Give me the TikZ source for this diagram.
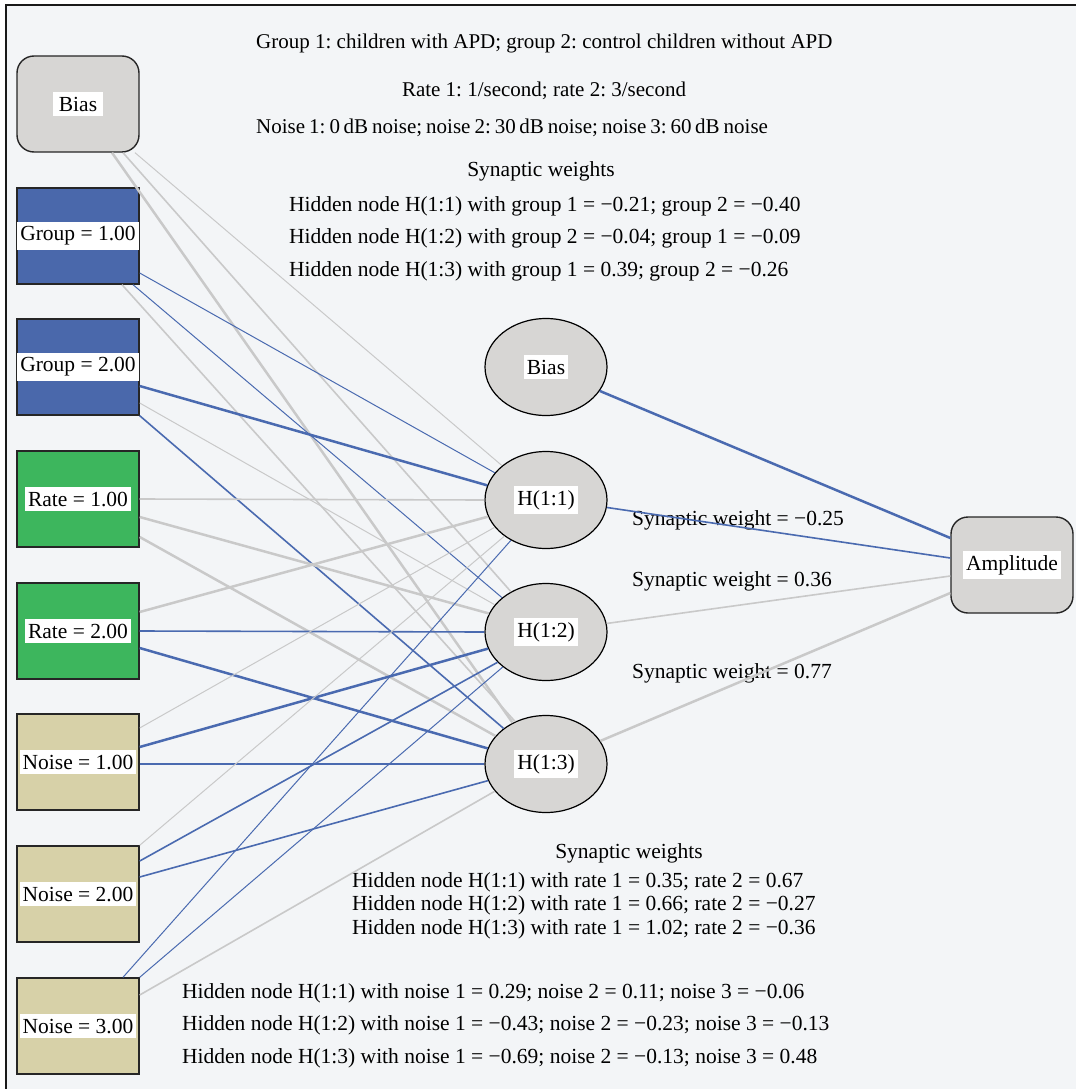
\documentclass[tikz,border=0pt]{standalone}
\usepackage{fontspec}
\setmainfont{Liberation Serif}
\usetikzlibrary{shapes.geometric}

\definecolor{bgcol}{HTML}{F3F5F7}
\definecolor{nodegray}{HTML}{D7D6D4}
\definecolor{groupblue}{HTML}{4A68AB}
\definecolor{rategreen}{HTML}{3DB65D}
\definecolor{noisetan}{HTML}{D7D1A8}
\definecolor{wblue}{HTML}{4A6AB0}
\definecolor{wgray}{HTML}{C9C9C9}

\newcommand{\wlbl}[1]{{\setlength{\fboxsep}{4.5pt}\colorbox{white}{\hspace{-1.5pt}#1\hspace{-1.5pt}}}}

\tikzset{
  inbox/.style={rectangle, draw=black!85, line width=1.4pt, minimum width=122pt, minimum height=96pt, inner sep=0pt},
  roundbox/.style={inbox, rounded corners=17pt, fill=nodegray},
  hidnode/.style={ellipse, draw=black, line width=1.2pt, fill=nodegray, minimum width=122pt, minimum height=97pt, inner sep=0pt},
  txt/.style={inner sep=0pt},
  headtxt/.style={txt, font=\fontsize{21}{25}\selectfont},
  posw/.style={draw=wgray},
  negw/.style={draw=wblue},
  w1/.style={line width=1pt},
  w2/.style={line width=1.6pt},
  w3/.style={line width=2.5pt},
}

\begin{document}
\frenchspacing
\begin{tikzpicture}[x=1pt, y=-1pt, font=\fontsize{21.5}{25}\selectfont]

\useasboundingbox (0, 0) rectangle (1076, 1089);
\fill[bgcol] (6, 5) rectangle (1076, 1089);
\draw[line width=1.8pt, black!90] (6, 1089) -- (6, 5) -- (1076, 5);

\node[roundbox] (bi) at (78, 104) {\wlbl{\hspace{3pt}Bias\hspace{3pt}}};
\node[inbox, fill=groupblue] (g1) at (78, 236) {\wlbl{Group = 1.00}};
\node[inbox, fill=groupblue] (g2) at (78, 367) {\wlbl{Group = 2.00}};
\node[inbox, fill=rategreen] (r1) at (78, 499) {\wlbl{Rate = 1.00}};
\node[inbox, fill=rategreen] (r2) at (78, 631) {\wlbl{Rate = 2.00}};
\node[inbox, fill=noisetan] (n1) at (78, 762) {\wlbl{Noise = 1.00}};
\node[inbox, fill=noisetan] (n2) at (78, 894) {\wlbl{Noise = 2.00}};
\node[inbox, fill=noisetan] (n3) at (78, 1026) {\wlbl{Noise = 3.00}};

\node[hidnode] (hb) at (546, 367) {\wlbl{Bias}};
\node[hidnode] (h1) at (546, 500) {\wlbl{H(1:1)}};
\node[hidnode] (h2) at (546, 632) {\wlbl{H(1:2)}};
\node[hidnode] (h3) at (546, 764) {\wlbl{H(1:3)}};

\node[roundbox] (am) at (1012, 565) {\wlbl{Amplitude}};

\node[headtxt, anchor=west] (t1) at (256, 43) {Group 1: children with APD; group 2: control children without APD};
\node[headtxt] (t2) at (544, 91) {Rate 1: 1/second; rate 2: 3/second};
\node[headtxt, anchor=west] (t3) at (256, 128) {\spaceskip=4pt Noise 1: 0\,dB noise; noise 2: 30\,dB noise; noise 3: 60\,dB noise};
\node[txt] (t4) at (541, 171) {Synaptic weights};
\node[txt, anchor=west] (t5) at (289, 206) {Hidden node H(1:1) with group 1 = −0.21; group 2 = −0.40};
\node[txt, anchor=west] (t6) at (289, 238) {Hidden node H(1:2) with group 2 = −0.04; group 1 = −0.09};
\node[txt, anchor=west] (t7) at (289, 271) {Hidden node H(1:3) with group 1 = 0.39; group 2 = −0.26};

\node[txt, anchor=west] (s1) at (632, 520) {Synaptic weight = −0.25};
\node[txt, anchor=west] (s2) at (632, 581) {Synaptic weight = 0.36};
\node[txt, anchor=west] (s3) at (632, 673) {Synaptic weight = 0.77};

\node[txt] (b0) at (629, 853) {Synaptic weights};
\node[txt, anchor=west] (b1) at (352, 882) {Hidden node H(1:1) with rate 1 = 0.35; rate 2 = 0.67};
\node[txt, anchor=west] (b2) at (352, 905.5) {Hidden node H(1:2) with rate 1 = 0.66; rate 2 = −0.27};
\node[txt, anchor=west] (b3) at (352, 929) {Hidden node H(1:3) with rate 1 = 1.02; rate 2 = −0.36};
\node[txt, anchor=west] (b4) at (182, 993) {Hidden node H(1:1) with noise 1 = 0.29; noise 2 = 0.11; noise 3 = −0.06};
\node[txt, anchor=west] (b5) at (182, 1025) {Hidden node H(1:2) with noise 1 = −0.43; noise 2 = −0.23; noise 3 = −0.13};
\node[txt, anchor=west] (b6) at (182, 1058) {Hidden node H(1:3) with noise 1 = −0.69; noise 2 = −0.13; noise 3 = 0.48};

\draw[posw, w1] ([xshift=57pt]bi.south) -- (h1.142);
\draw[posw, w2] ([xshift=45pt]bi.south) -- (h2.131);
\draw[posw, w3] ([xshift=34pt]bi.south) -- (h3.129);

\draw[negw, w1] ([yshift=-37pt]g1.east) -- (h1.152);
\draw[negw, w1] ([xshift=55pt]g1.south) -- (h2.142);
\draw[posw, w2] ([xshift=44pt]g1.south) -- (h3.126);

\draw[negw, w3] ([yshift=-19pt]g2.east) -- (h1.166);
\draw[posw, w1] ([yshift=-36pt]g2.east) -- (h2.152);
\draw[negw, w2] (g2.south east) -- (h3.140);

\draw[posw, w2] (r1.east) -- (h1.west);
\draw[posw, w3] ([yshift=-18pt]r1.east) -- (h2.162);
\draw[posw, w3] ([yshift=-38pt]r1.east) -- (h3.151);

\draw[posw, w3] ([yshift=19pt]r2.east) -- (h1.196);
\draw[negw, w2] (r2.east) -- (h2.west);
\draw[negw, w3] ([yshift=-17pt]r2.east) -- (h3.165);

\draw[posw, w1] ([yshift=34pt]n1.east) -- (h1.208);
\draw[negw, w3] ([yshift=15pt]n1.east) -- (h2.196);
\draw[negw, w3] ([yshift=-2pt]n1.east) -- (h3.west);

\draw[posw, w1] (n2.north east) -- (h1.221);
\draw[negw, w2] ([yshift=33pt]n2.east) -- (h2.212);
\draw[negw, w2] ([yshift=17pt]n2.east) -- (h3.196);

\draw[negw, w1] ([xshift=45pt]n3.north) -- (h1.229);
\draw[negw, w1] (n3.north east) -- (h2.219);
\draw[posw, w2] ([yshift=31pt]n3.east) -- (h3.208);

\draw[negw, w3] (hb.-24) -- ([yshift=27pt]am.west);
\draw[negw, w2] (h1.-7) -- ([yshift=7pt]am.west);
\draw[posw, w2] (h2.8) -- ([yshift=-11pt]am.west);
\draw[posw, w3] (h3.23) -- ([yshift=-28pt]am.west);

\end{tikzpicture}
\end{document}
